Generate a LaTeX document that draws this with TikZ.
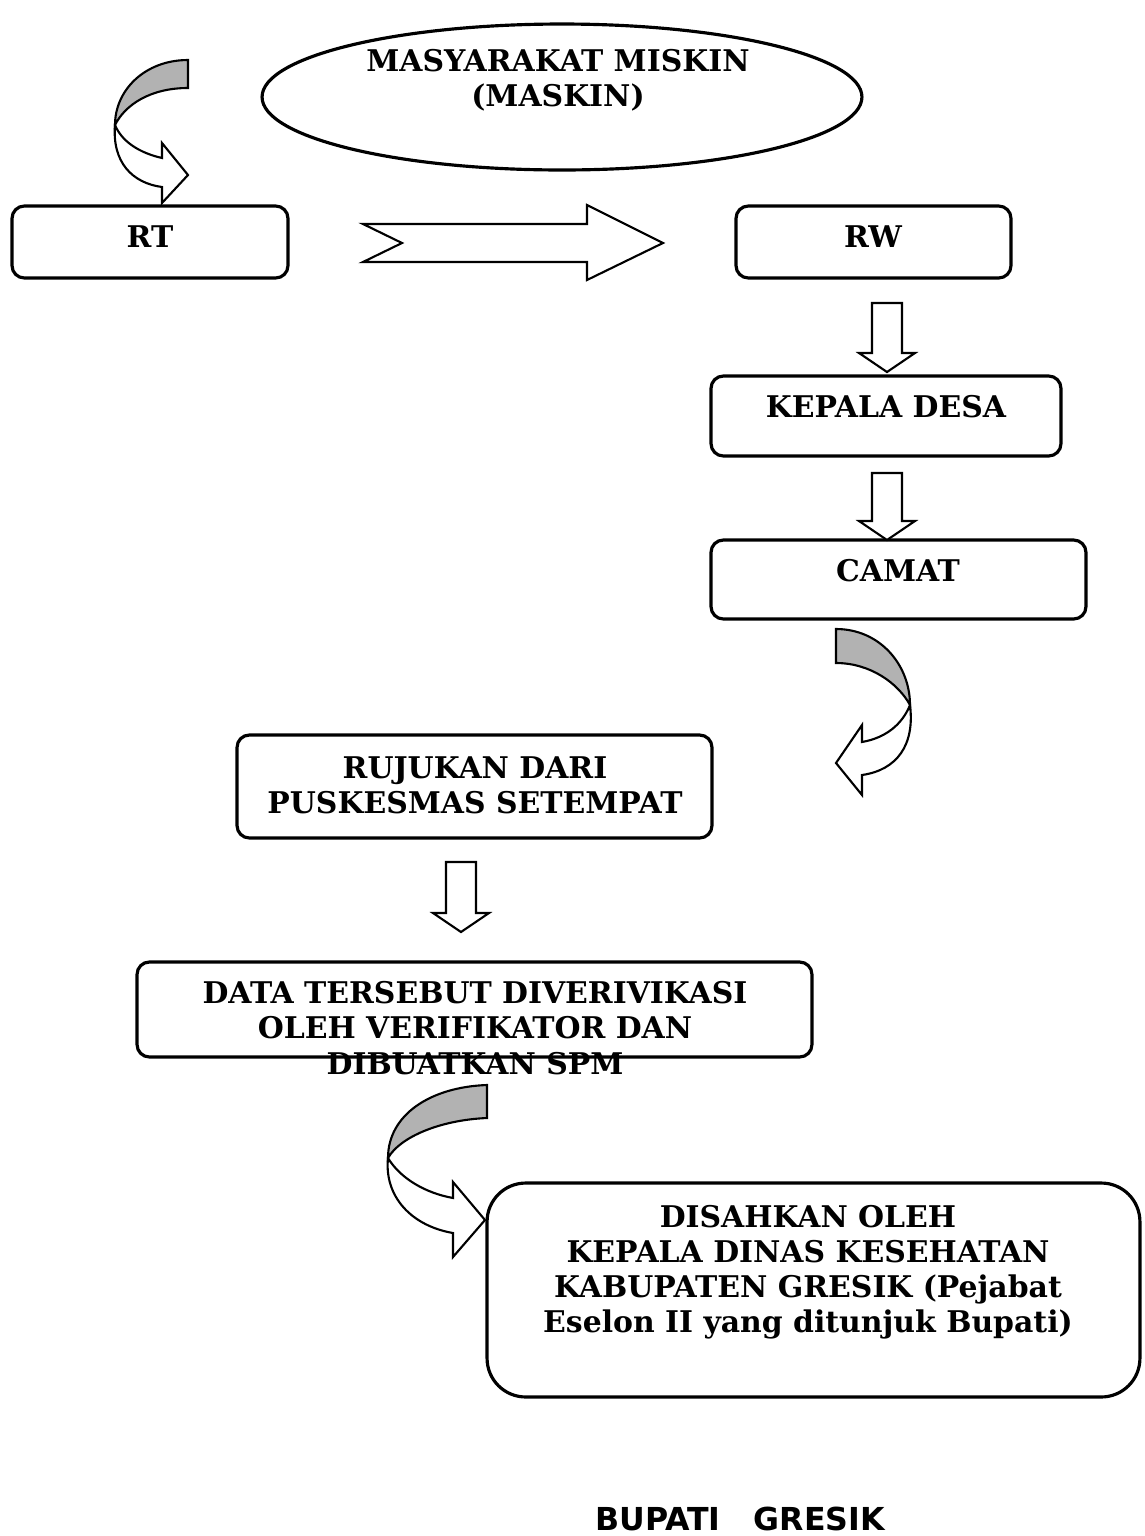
\documentclass[tikz,border=0pt]{standalone}
\usepackage{fontspec}
\setmainfont{DejaVu Serif}
\newfontfamily\bupatifont{DejaVu Sans}
\usetikzlibrary{shapes.geometric}
\tikzset{
  box/.style={draw, line width=1.8pt, rounded corners=7pt},
  oval/.style={draw, ellipse, line width=1.8pt},
  txt/.style={font=\bfseries\fontsize{17}{20}\selectfont, align=center, inner sep=0pt},
  hollow/.style={draw, line width=1.2pt, fill=white, line join=miter},
  shade/.style={draw, line width=1.2pt, fill=black!30, line join=miter}
}
% hollow down arrow: centre x, top of shaft, tip
\newcommand{\hollowdown}[3]{%
  \draw[hollow] (#1-15,#2) -- (#1+15,#2) -- (#1+15,#3-19) -- (#1+28,#3-19)
    -- (#1,#3) -- (#1-28,#3-19) -- (#1-15,#3-19) -- cycle;}

\begin{document}
\begin{tikzpicture}[x=0.02cm, y=-0.02cm]
  \useasboundingbox (0,0) rectangle (1144,1536);

  % top oval
  \node[oval, minimum width=12cm, minimum height=2.92cm] (maskin) at (562,97) {};
  \node[txt] (maskintxt) at (558,80) {MASYARAKAT MISKIN\\(MASKIN)};

  % boxes
  \node[box, minimum width=5.52cm, minimum height=1.44cm] (rt) at (150,242) {};
  \node[txt] (rttxt) at (150,237) {RT};
  \node[box, minimum width=5.5cm, minimum height=1.44cm] (rw) at (873.5,242) {};
  \node[txt] (rwtxt) at (873,237) {RW};
  \node[box, minimum width=7cm, minimum height=1.6cm] (kades) at (886,416) {};
  \node[txt] (kadestxt) at (886,407) {KEPALA DESA};
  \node[box, minimum width=7.5cm, minimum height=1.58cm] (camat) at (898.5,579.5) {};
  \node[txt] (camattxt) at (898,571) {CAMAT};
  \node[box, minimum width=9.5cm, minimum height=2.06cm] (rujukan) at (474.5,786.5) {};
  \node[txt] (rujukantxt) at (475,785) {RUJUKAN DARI\\PUSKESMAS SETEMPAT};
  \node[box, minimum width=13.5cm, minimum height=1.9cm] (data) at (474.5,1009.5) {};
  \node[txt] (datatxt) at (475,1028) {DATA TERSEBUT DIVERIVIKASI\\OLEH VERIFIKATOR DAN\\DIBUATKAN SPM};
  \node[box, rounded corners=22pt, minimum width=13.06cm, minimum height=4.28cm] (sah) at (813.5,1290) {};
  \node[txt] (sahtxt) at (808,1272) {DISAHKAN OLEH\\KEPALA DINAS KESEHATAN\\KABUPATEN GRESIK (Pejabat\\Eselon II yang ditunjuk Bupati)};

  \node[inner sep=0pt, font=\bupatifont\bfseries\fontsize{18}{21}\selectfont] (bupati) at (740,1519) {BUPATI\ \ \ GRESIK};

  % RT -> RW
  \draw[hollow] (363,224) -- (587,224) -- (587,205) -- (663,243) -- (587,280)
    -- (587,262) -- (363,262) -- (402,243) -- cycle;

  % straight down arrows
  \hollowdown{887}{303}{372}
  \hollowdown{887}{473}{540}
  \hollowdown{461}{862}{932}

  % curved arrow into RT
  \draw[shade] (188,60) .. controls (145,60) and (115,90) .. (115,125)
    .. controls (125,105) and (150,88) .. (188,88) -- cycle;
  \draw[hollow] (115,125) .. controls (122,142) and (140,153) .. (162,158)
    -- (162,143) -- (188,175) -- (162,203) -- (162,187)
    .. controls (132,183) and (112,162) .. (115,125) -- cycle;

  % curved arrow below CAMAT
  \draw[shade] (836,629) .. controls (880,629) and (910,665) .. (910,705)
    .. controls (898,683) and (870,663) .. (836,663) -- cycle;
  \draw[hollow] (910,705) .. controls (902,725) and (885,738) .. (862,742)
    -- (862,725) -- (836,763) -- (862,795) -- (862,775)
    .. controls (897,770) and (915,745) .. (910,705) -- cycle;

  % curved arrow into DISAHKAN
  \draw[shade] (487,1085) .. controls (430,1087) and (388,1115) .. (388,1158)
    .. controls (400,1137) and (440,1120) .. (487,1118) -- cycle;
  \draw[hollow] (388,1158) .. controls (400,1178) and (425,1193) .. (453,1198)
    -- (453,1182) -- (485,1220) -- (453,1257) -- (453,1233)
    .. controls (412,1226) and (384,1197) .. (388,1158) -- cycle;
\end{tikzpicture}
\end{document}
